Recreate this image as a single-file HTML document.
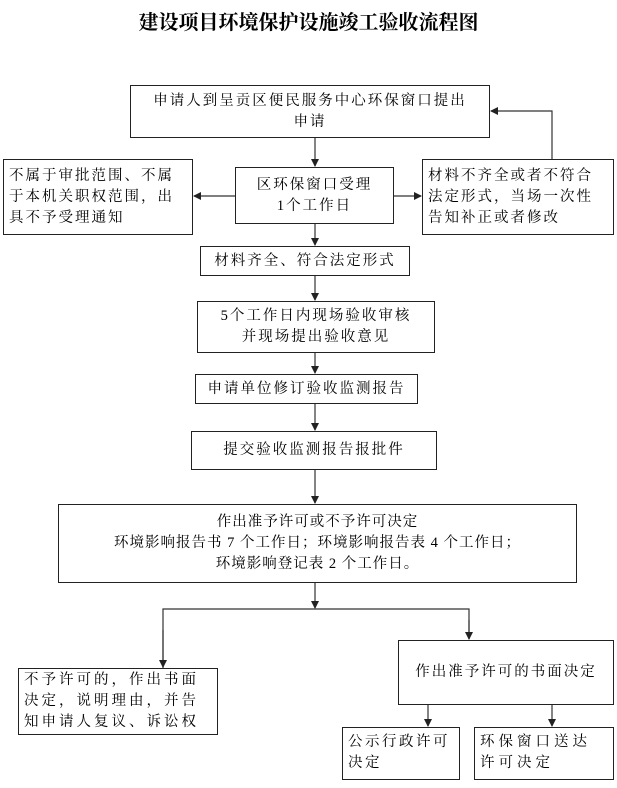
<!DOCTYPE html>
<html><head><meta charset="utf-8"><style>
body{margin:0;background:#fff;width:617px;height:788px;position:relative;overflow:hidden;font-family:"Liberation Serif","Noto Serif CJK SC","Noto Sans CJK SC",serif;color:#000}
.b{position:absolute;border:1.3px solid #222;box-sizing:border-box;font-size:14.5px;line-height:21px;display:flex;align-items:center;justify-content:center;text-align:center;letter-spacing:2px}
.l{justify-content:flex-start;text-align:left;padding-left:5px}
h1{position:absolute;top:6px;left:0;width:617px;text-align:center;margin:0;font-size:20px;font-weight:bold;font-family:"Noto Serif CJK SC","Noto Sans CJK SC",serif}
svg{position:absolute;left:0;top:0}
</style></head><body>
<h1>建设项目环境保护设施竣工验收流程图</h1>
<svg width="617" height="788">
<defs><marker id="a" markerWidth="8" markerHeight="8" refX="7" refY="4" orient="auto" markerUnits="userSpaceOnUse"><path d="M0,0 L8,4 L0,8z" fill="#222"/></marker></defs>
<g stroke="#333" stroke-width="1.2" fill="none">
<line x1="315" y1="138" x2="315" y2="166" marker-end="url(#a)"/>
<line x1="235" y1="196" x2="194" y2="196" marker-end="url(#a)"/>
<line x1="394" y1="196" x2="421" y2="196" marker-end="url(#a)"/>
<polyline points="552,159 552,111 491,111" marker-end="url(#a)"/>
<line x1="315" y1="224" x2="315" y2="245" marker-end="url(#a)"/>
<line x1="315" y1="276" x2="315" y2="300" marker-end="url(#a)"/>
<line x1="315" y1="353" x2="315" y2="373" marker-end="url(#a)"/>
<line x1="315" y1="404" x2="315" y2="430" marker-end="url(#a)"/>
<line x1="315" y1="470" x2="315" y2="503" marker-end="url(#a)"/>
<line x1="315" y1="583" x2="315" y2="608" marker-end="url(#a)"/>
<polyline points="163,668 163,609 469,609 469,639" />
<line x1="163" y1="630" x2="163" y2="667" marker-end="url(#a)"/>
<line x1="469" y1="620" x2="469" y2="639" marker-end="url(#a)"/>
<line x1="428" y1="705" x2="428" y2="726" marker-end="url(#a)"/>
<line x1="552" y1="705" x2="552" y2="726" marker-end="url(#a)"/>
</g></svg>
<div class="b" style="left:130px;top:85px;width:360px;height:53px">申请人到呈贡区便民服务中心环保窗口提出<br>申请</div>
<div class="b l" style="left:3px;top:159px;width:190px;height:76px">不属于审批范围、不属<br>于本机关职权范围，出<br>具不予受理通知</div>
<div class="b" style="left:235px;top:167px;width:159px;height:57px">区环保窗口受理<br>1个工作日</div>
<div class="b l" style="left:422px;top:159px;width:192px;height:76px">材料不齐全或者不符合<br>法定形式，当场一次性<br>告知补正或者修改</div>
<div class="b" style="left:200px;top:246px;width:210px;height:30px">材料齐全、符合法定形式</div>
<div class="b" style="left:197px;top:301px;width:238px;height:52px">5个工作日内现场验收审核<br>并现场提出验收意见</div>
<div class="b" style="left:195px;top:374px;width:223px;height:30px">申请单位修订验收监测报告</div>
<div class="b" style="left:191px;top:431px;width:246px;height:39px">提交验收监测报告报批件</div>
<div class="b" style="left:58px;top:504px;width:519px;height:79px;letter-spacing:1px">作出准予许可或不予许可决定<br>环境影响报告书 7 个工作日；环境影响报告表 4 个工作日；<br>环境影响登记表 2 个工作日。</div>
<div class="b l" style="left:18px;top:668px;width:200px;height:67px;letter-spacing:3px">不予许可的，作出书面<br>决定，说明理由，并告<br>知申请人复议、诉讼权</div>
<div class="b" style="left:398px;top:640px;width:216px;height:65px">作出准予许可的书面决定</div>
<div class="b l" style="left:342px;top:727px;width:118px;height:53px;align-items:flex-start;padding-top:4px;letter-spacing:2.5px">公示行政许可<br>决定</div>
<div class="b l" style="left:474px;top:727px;width:140px;height:53px;align-items:flex-start;padding-top:4px;letter-spacing:4px">环保窗口送达<br>许可决定</div>
</body></html>
